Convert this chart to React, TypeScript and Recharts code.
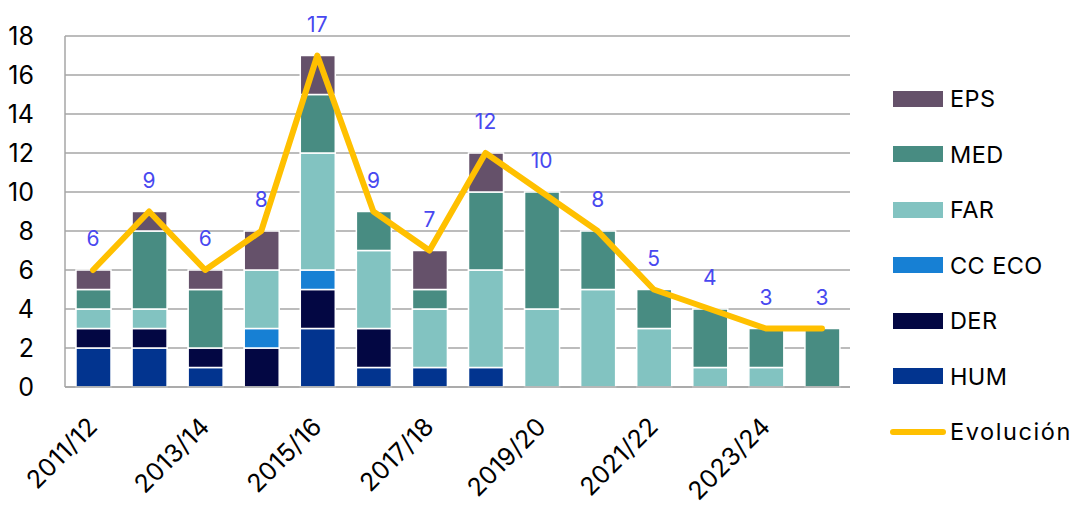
import {
  ComposedChart,
  Bar,
  Line,
  XAxis,
  YAxis,
  CartesianGrid,
  Legend,
  LabelList,
} from "recharts";

const periods = [
  "2011/12", "2012/13", "2013/14", "2014/15", "2015/16", "2016/17", "2017/18",
  "2018/19", "2019/20", "2020/21", "2021/22", "2022/23", "2023/24", "2024/25",
];

const hum = [2, 2, 1, 0, 3, 1, 1, 1, 0, 0, 0, 0, 0, 0];
const der = [1, 1, 1, 2, 2, 2, 0, 0, 0, 0, 0, 0, 0, 0];
const ccEco = [0, 0, 0, 1, 1, 0, 0, 0, 0, 0, 0, 0, 0, 0];
const far = [1, 1, 0, 3, 6, 4, 3, 5, 4, 5, 3, 1, 1, 0];
const med = [1, 4, 3, 0, 3, 2, 1, 4, 6, 3, 2, 3, 2, 3];
const eps = [1, 1, 1, 2, 2, 0, 2, 2, 0, 0, 0, 0, 0, 0];
const evolucion = [6, 9, 6, 8, 17, 9, 7, 12, 10, 8, 5, 4, 3, 3];

const yTicks = [0, 2, 4, 6, 8, 10, 12, 14, 16, 18];

const series = [
  { key: "hum", name: "HUM", color: "#02348F" },
  { key: "der", name: "DER", color: "#030743" },
  { key: "ccEco", name: "CC ECO", color: "#1780D4" },
  { key: "far", name: "FAR", color: "#82C3C1" },
  { key: "med", name: "MED", color: "#488C82" },
  { key: "eps", name: "EPS", color: "#65516A" },
];

const LINE_COLOR = "#FFC000";
const FONT = "Inter, 'Open Sans', sans-serif";

const data = periods.map((p, i) => ({
  period: p,
  hum: hum[i],
  der: der[i],
  ccEco: ccEco[i],
  far: far[i],
  med: med[i],
  eps: eps[i],
  evolucion: evolucion[i],
}));

// rotated period label, anchored at its end just below the axis
const PeriodTick = (props: any) => {
  const { x, y, payload } = props;
  const ax = x + 6;
  const ay = y + 41;
  return (
    <text
      x={ax}
      y={ay}
      textAnchor="end"
      transform={`rotate(-45, ${ax}, ${ay})`}
      fontSize={25}
      fontFamily={FONT}
      fill="#000"
      letterSpacing={0.3}
    >
      {payload.value}
    </text>
  );
};

const LegendBox = () => {
  const rows = [...series].reverse();
  const text = { fontSize: 23.5, color: "#000", letterSpacing: 0.4, whiteSpace: "nowrap" as const };
  const row = { height: 55.5, display: "flex", alignItems: "center" };
  return (
    <div style={{ width: 233, paddingLeft: 43, boxSizing: "border-box", fontFamily: FONT }}>
      {rows.map((s) => (
        <div key={s.key} style={row}>
          <span style={{ width: 50, height: 16, flexShrink: 0, background: s.color, marginRight: 7 }} />
          <span style={text}>{s.name}</span>
        </div>
      ))}
      <div style={row}>
        <span
          style={{
            width: 56,
            height: 6,
            flexShrink: 0,
            borderRadius: 3,
            background: LINE_COLOR,
            marginLeft: -3,
            marginRight: 4,
          }}
        />
        <span style={{ ...text, letterSpacing: 1.6 }}>Evolución</span>
      </div>
    </div>
  );
};

export default function App() {
  return (
    <div style={{ position: "absolute", left: 0, top: 0, background: "#fff" }}>
      <ComposedChart
        width={1083}
        height={505}
        data={data}
        margin={{ top: 36, right: 0, bottom: 0, left: 0 }}
        barSize={35}
      >
        <CartesianGrid vertical={false} stroke="#A6A6A6" strokeWidth={1.5} />
        <XAxis
          dataKey="period"
          interval={1}
          height={118}
          tickLine={false}
          tickSize={0}
          tickMargin={0}
          axisLine={{ stroke: "#A6A6A6", strokeWidth: 1.5 }}
          tick={<PeriodTick />}
        />
        <YAxis
          width={65}
          domain={[0, 18]}
          ticks={yTicks}
          tickLine={false}
          tickSize={0}
          tickMargin={31}
          axisLine={{ stroke: "#A6A6A6", strokeWidth: 1.5 }}
          tick={{ fontSize: 25, fill: "#000", fontFamily: FONT }}
        />
        {series.map((s) => (
          <Bar
            key={s.key}
            dataKey={s.key}
            name={s.name}
            stackId="a"
            fill={s.color}
            stroke="#fff"
            strokeWidth={1.5}
            isAnimationActive={false}
          />
        ))}
        <Line
          dataKey="evolucion"
          name="Evolución"
          stroke={LINE_COLOR}
          strokeWidth={6}
          strokeLinecap="round"
          strokeLinejoin="round"
          dot={false}
          isAnimationActive={false}
        >
          <LabelList
            dataKey="evolucion"
            position="top"
            offset={24}
            fill="#4848F0"
            fontSize={21}
            fontFamily={FONT}
          />
        </Line>
        <Legend
          layout="vertical"
          align="right"
          verticalAlign="middle"
          wrapperStyle={{ top: 71 }}
          content={() => <LegendBox />}
        />
      </ComposedChart>
    </div>
  );
}
